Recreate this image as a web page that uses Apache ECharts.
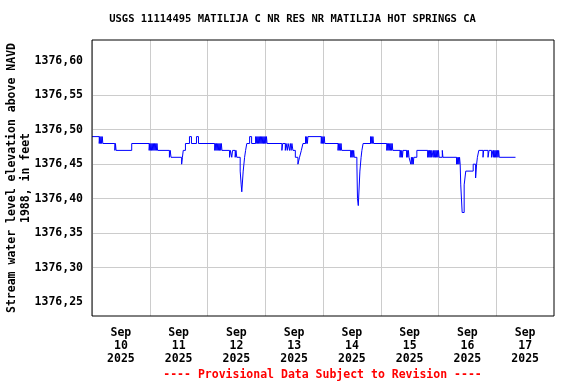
<!DOCTYPE html>
<html><head><meta charset="utf-8">
<script src="https://cdn.jsdelivr.net/npm/echarts@6/dist/echarts.min.js"></script>
<style>html,body{margin:0;padding:0;background:#fff}#c{width:576px;height:384px}</style>
</head><body><div id="c"></div>
<script>
const titleText = 'USGS 11114495 MATILIJA C NR RES NR MATILIJA HOT SPRINGS CA';
const yName = 'Stream water level elevation above NAVD\n1988, in feet';
const footerText = '---- Provisional Data Subject to Revision ----';
const xLabels = ['Sep\n10\n2025','Sep\n11\n2025','Sep\n12\n2025','Sep\n13\n2025','Sep\n14\n2025','Sep\n15\n2025','Sep\n16\n2025','Sep\n17\n2025'];
const yTicks = [1376.25,1376.30,1376.35,1376.40,1376.45,1376.50,1376.55,1376.60];

const sep10 = [['00:00',1376.49],['03:00',1376.48],['03:15',1376.49],['03:30',1376.48],['03:45',1376.49],['04:00',1376.48],['04:15',1376.49],['04:30',1376.48],
  ['09:30',1376.47],['09:45',1376.48],['10:00',1376.47],['16:30',1376.48],['23:45',1376.47]];
const sep11 = [['00:00',1376.48],['00:15',1376.47],['00:30',1376.48],['00:45',1376.47],['01:00',1376.48],['01:15',1376.47],['01:30',1376.48],['01:45',1376.47],
  ['02:00',1376.48],['02:15',1376.47],['02:30',1376.48],['02:45',1376.47],['03:00',1376.48],['03:15',1376.47],
  ['08:10',1376.46],['08:30',1376.47],['08:50',1376.46],['13:15',1376.45],['13:35',1376.46],['13:55',1376.47],['14:50',1376.48],
  ['16:30',1376.49],['17:20',1376.48],['19:25',1376.49],['20:15',1376.48]];
const sep12 = [['03:00',1376.47],['03:15',1376.48],['03:30',1376.47],['03:45',1376.48],['04:00',1376.47],['04:15',1376.48],['04:30',1376.47],
  ['04:45',1376.48],['05:00',1376.47],['05:15',1376.48],['05:30',1376.47],['05:45',1376.48],['06:00',1376.47],
  ['09:10',1376.46],['09:30',1376.47],['10:05',1376.46],['10:25',1376.47],['11:30',1376.46],['11:50',1376.47],['12:10',1376.46],
  ['13:35',1376.44],['14:00',1376.42],['14:15',1376.41],['14:50',1376.44],['15:25',1376.46],['15:50',1376.47],['16:20',1376.48],
  ['17:30',1376.49],['18:20',1376.48],
  ['20:00',1376.49],['20:15',1376.48],['20:30',1376.49],['20:45',1376.48],['21:00',1376.49],['21:15',1376.48],['21:30',1376.49],['21:45',1376.48],
  ['22:00',1376.49],['22:15',1376.48],['22:30',1376.49],['22:45',1376.48],['23:00',1376.49],['23:15',1376.48],['23:30',1376.49],['23:45',1376.48]];
const sep13 = [['00:00',1376.49],['00:15',1376.48],['00:30',1376.49],['00:45',1376.48],
  ['06:55',1376.47],['07:15',1376.48],['08:20',1376.47],['08:40',1376.48],['09:10',1376.47],['09:30',1376.48],['10:05',1376.47],['10:25',1376.48],
  ['10:45',1376.47],['11:05',1376.48],['11:30',1376.47],['12:30',1376.46],['13:35',1376.45],['14:15',1376.46],['15:00',1376.47],['15:40',1376.48],
  ['16:45',1376.49],['17:00',1376.48],['17:15',1376.49],['17:30',1376.48],['17:45',1376.49],
  ['23:15',1376.48],['23:30',1376.49],['23:45',1376.48]];
const sep14 = [['00:00',1376.49],['00:15',1376.48],['00:30',1376.49],['00:45',1376.48],
  ['06:15',1376.47],['06:30',1376.48],['06:45',1376.47],['07:00',1376.48],['07:15',1376.47],['07:30',1376.48],['07:45',1376.47],
  ['11:30',1376.46],['11:45',1376.47],['12:00',1376.46],['12:15',1376.47],['12:30',1376.46],['12:45',1376.47],['13:00',1376.46],
  ['14:05',1376.45],['14:20',1376.40],['14:40',1376.39],['15:20',1376.44],['15:50',1376.46],['16:10',1376.47],['16:40',1376.48],
  ['19:45',1376.49],['20:00',1376.48],['20:15',1376.49],['20:30',1376.48],['20:45',1376.49],['21:00',1376.48]];
const sep15 = [['02:30',1376.47],['02:45',1376.48],['03:00',1376.47],['03:15',1376.48],['03:30',1376.47],['03:45',1376.48],['04:00',1376.47],
  ['04:15',1376.48],['04:30',1376.47],['04:45',1376.48],['05:00',1376.47],
  ['08:00',1376.46],['08:15',1376.47],['08:30',1376.46],['08:45',1376.47],['09:00',1376.46],['09:15',1376.47],
  ['10:45',1376.46],['11:00',1376.47],['11:15',1376.46],['11:30',1376.47],['11:45',1376.46],
  ['12:30',1376.45],['12:45',1376.46],['13:00',1376.45],['13:15',1376.46],['13:30',1376.45],['13:45',1376.46],['15:00',1376.47],
  ['19:30',1376.46],['19:45',1376.47],['20:00',1376.46],['20:15',1376.47],['20:30',1376.46],['20:45',1376.47],['21:00',1376.46],['21:15',1376.47],
  ['21:45',1376.46],['22:00',1376.47],['22:15',1376.46],['22:30',1376.47],['22:45',1376.46],['23:00',1376.47],['23:15',1376.46],['23:30',1376.47],['23:45',1376.46]];
const sep16 = [['00:00',1376.47],['00:15',1376.46],['01:35',1376.47],['01:50',1376.46],
  ['07:30',1376.45],['07:45',1376.46],['08:00',1376.45],['08:15',1376.46],['08:30',1376.45],['08:45',1376.46],['09:00',1376.45],
  ['09:15',1376.42],['09:50',1376.38],['10:40',1376.42],['11:20',1376.44],['14:25',1376.45],['15:25',1376.43],['15:50',1376.45],['16:10',1376.46],['16:45',1376.47],
  ['18:30',1376.46],['18:45',1376.47],['20:35',1376.46],['21:00',1376.47],['22:00',1376.46],['22:40',1376.47],
  ['22:45',1376.46],['23:00',1376.47],['23:15',1376.46],['23:30',1376.47],['23:45',1376.46]];
const sep17 = [['00:00',1376.47],['00:15',1376.46],['00:30',1376.47],['00:45',1376.46],['01:00',1376.47],['01:15',1376.46],['08:00',1376.46]];

const days = [['2025-09-10',sep10],['2025-09-11',sep11],['2025-09-12',sep12],['2025-09-13',sep13],['2025-09-14',sep14],['2025-09-15',sep15],['2025-09-16',sep16],['2025-09-17',sep17]];
const seriesData = days.flatMap(([d, arr]) => arr.map(([t, v]) => [d + ' ' + t, v]));

const FONT = '"DejaVu Sans Mono", "Liberation Mono", monospace';
const DAY = 86400000;
const chart = echarts.init(document.getElementById('c'), null, {renderer: 'canvas'});
chart.setOption({
  animation: false,
  backgroundColor: '#fff',
  grid: {left: 92, right: 22, top: 40, bottom: 68, show: true, borderColor: '#000', borderWidth: 1, backgroundColor: 'transparent', containLabel: false, z: 10},
  xAxis: [
    {type: 'time', min: '2025-09-10 00:00', max: '2025-09-18 00:00', minInterval: DAY, maxInterval: DAY, splitNumber: 8,
     axisLabel: {show: false}, axisTick: {show: false}, axisLine: {show: false},
     splitLine: {show: true, showMinLine: false, showMaxLine: false, lineStyle: {color: '#cccccc', width: 1}}},
    {type: 'category', data: xLabels, position: 'bottom', boundaryGap: true,
     axisLine: {show: false}, axisTick: {show: false}, splitLine: {show: false},
     axisLabel: {color: '#000', fontFamily: FONT, fontWeight: 'bold', fontSize: 11.5, lineHeight: 13, margin: 11, interval: 0}}
  ],
  yAxis: {type: 'value', min: 1376.23, max: 1376.63,
    axisLine: {show: false},
    axisTick: {show: false, customValues: yTicks},
    splitLine: {show: true, showMinLine: false, showMaxLine: false, lineStyle: {color: '#cccccc', width: 1}},
    axisLabel: {customValues: yTicks, color: '#000', fontFamily: FONT, fontWeight: 'bold', fontSize: 11.5, margin: 9,
      formatter: v => v.toFixed(2).replace('.', ',')}},
  series: [{type: 'line', step: 'end', data: seriesData, xAxisIndex: 0, symbol: 'none', showSymbol: false,
    lineStyle: {color: '#0000ff', width: 1}, z: 3}],
  graphic: [
    {type: 'text', x: 292.5, y: 19, style: {text: titleText, align: 'center', verticalAlign: 'middle', fill: '#000', font: 'bold 10.5px ' + FONT}},
    {type: 'text', x: 19, y: 178, rotation: Math.PI / 2, style: {text: yName, align: 'center', verticalAlign: 'middle', lineHeight: 14, fill: '#000', font: 'bold 11.5px ' + FONT}},
    {type: 'text', x: 322.5, y: 375, style: {text: footerText, align: 'center', verticalAlign: 'middle', fill: '#ff0000', font: 'bold 11.5px ' + FONT}}
  ]
});
</script></body></html>
